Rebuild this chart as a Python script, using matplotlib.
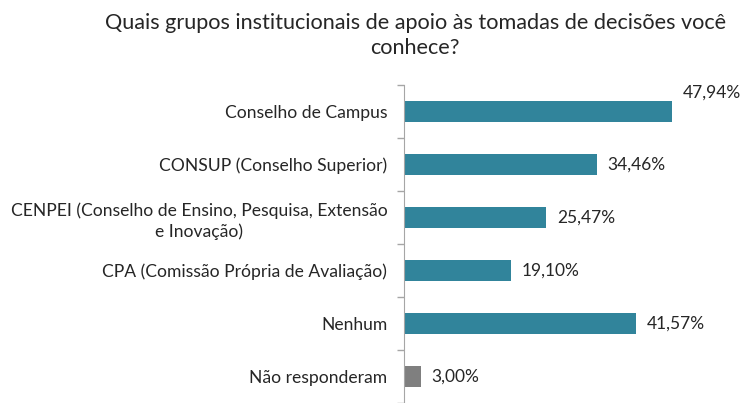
import matplotlib
matplotlib.use("Agg")
import matplotlib.pyplot as plt
import numpy as np

# data
categories = [
    "Conselho de Campus",
    "CONSUP (Conselho Superior)",
    "CENPEI (Conselho de Ensino, Pesquisa, Extensão\ne Inovação)",
    "CPA (Comissão Própria de Avaliação)",
    "Nenhum",
    "Não responderam",
]
values = [47.94, 34.46, 25.47, 19.10, 41.57, 3.00]
value_labels = ["47,94%", "34,46%", "25,47%", "19,10%", "41,57%", "3,00%"]
colors = ["#31849B"] * 5 + ["#7F7F7F"]
title = "Quais grupos institucionais de apoio às tomadas de decisões você\nconhece?"

plt.rcParams['font.family'] = ['Lato', 'DejaVu Sans']

fig = plt.figure(figsize=(7.44, 4.03), dpi=100)
ax = fig.add_axes([0.543, 0.0, 0.457, 0.789])

pos = np.arange(len(categories))
ax.barh(pos, values, height=0.405, color=colors)

ax.set_xlim(0, 60.8)
ax.set_ylim(5.45, -0.5)

for i, (v, lab) in enumerate(zip(values, value_labels)):
    if i == 0:
        # first label sits above the end of the bar
        ax.text(v + 2.0, i - 0.36, lab, va="center", ha="left", fontsize=12.5, color="#262626")
    else:
        ax.text(v + 1.9, i, lab, va="center", ha="left", fontsize=12.5, color="#262626")

ax.set_yticks(pos)
ax.set_yticklabels(categories, fontsize=12.6, color="#262626")
for lbl in ax.get_yticklabels():
    lbl.set_multialignment("center")
    lbl.set_linespacing(1.3)
ax.tick_params(axis="y", which="major", length=0, pad=12)
ax.set_yticks(np.arange(-0.5, len(categories), 1.0), minor=True)
ax.tick_params(axis="y", which="minor", length=5, color="#A6A6A6", width=1)

ax.set_xticks([])
for s in ["top", "right", "bottom"]:
    ax.spines[s].set_visible(False)
ax.spines["left"].set_color("#A6A6A6")

fig.text(0.558, 0.967, title, ha="center", va="top", fontsize=15.6,
         color="#262626", linespacing=1.32)

fig.savefig("out.png", dpi=100)
